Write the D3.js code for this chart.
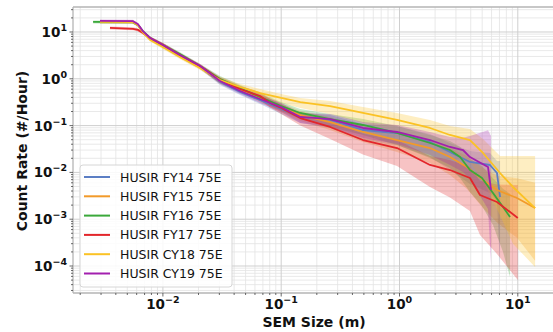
<!DOCTYPE html>
<html>
<head>
<meta charset="utf-8">
<script src="https://cdn.jsdelivr.net/npm/d3@7"></script>
<style>
  body { margin: 0; background: #fff; }
  svg { display: block; font-family: "DejaVu Sans", sans-serif; }
</style>
</head>
<body>
<div id="chart"></div>
<script>
// each row: [size (m), rate, lower bound, upper bound]
const fy14 = [
  [0.00294, 16.4, 15.2, 17.7], [0.00559, 16.2, 15.0, 17.5], [0.00616, 14.1, 13.1, 15.2],
  [0.00679, 10.0, 9.3, 10.8], [0.0078, 7.09, 6.58, 7.64], [0.01, 5.02, 4.55, 5.54], [0.0139, 3.07, 2.78, 3.39],
  [0.0206, 1.79, 1.62, 1.98], [0.0304, 0.854, 0.737, 0.99], [0.0449, 0.522, 0.45, 0.605],
  [0.0662, 0.352, 0.289, 0.428], [0.1, 0.226, 0.177, 0.275], [0.145, 0.153, 0.114, 0.186],
  [0.259, 0.132, 0.089, 0.169], [0.491, 0.0805, 0.0492, 0.108], [0.953, 0.0695, 0.0385, 0.098],
  [1.81, 0.0446, 0.0213, 0.0661], [2.67, 0.0273, 0.01126, 0.0425], [3.94, 0.0167, 0.00566, 0.0287],
  [5.82, 0.0144, 0.00364, 0.026], [6.67, 0.0097, 0.00245, 0.0175], [7.08, 0.00298, 0.000085, 0.0175]
];
const fy15 = [
  [0.00294, 16.4, 15.2, 17.7], [0.00559, 16.2, 15.0, 17.5], [0.00616, 14.1, 13.1, 15.2],
  [0.00679, 10.0, 9.3, 10.8], [0.0078, 7.09, 6.58, 7.64], [0.01, 5.28, 4.78, 5.83], [0.0139, 3.23, 2.93, 3.57],
  [0.0206, 1.79, 1.62, 1.98], [0.0304, 0.897, 0.774, 1.04], [0.0449, 0.605, 0.522, 0.701],
  [0.0662, 0.389, 0.32, 0.473], [0.1, 0.25, 0.195, 0.304], [0.145, 0.168, 0.125, 0.204],
  [0.259, 0.119, 0.0802, 0.152], [0.491, 0.073, 0.0446, 0.098], [0.953, 0.0492, 0.0272, 0.0694],
  [1.81, 0.0332, 0.0159, 0.0492], [2.67, 0.0213, 0.00879, 0.0332], [3.72, 0.013, 0.00441, 0.0223],
  [5.08, 0.00688, 0.00174, 0.0124], [6.67, 0.00421, 0.00085, 0.0085], [9.85, 0.00284, 0.0004, 0.0075],
  [14.0, 0.00173, 0.00013, 0.006]
];
const fy16 = [
  [0.00257, 16.4, 15.2, 17.7], [0.00559, 16.2, 15.0, 17.5], [0.00616, 14.1, 13.1, 15.2],
  [0.00679, 10.3, 9.6, 11.1], [0.0078, 7.44, 6.91, 8.01], [0.01, 5.28, 4.78, 5.83], [0.0139, 3.39, 3.07, 3.74],
  [0.0206, 1.88, 1.7, 2.08], [0.0304, 0.99, 0.854, 1.15], [0.0449, 0.636, 0.549, 0.737],
  [0.0662, 0.408, 0.335, 0.497], [0.1, 0.262, 0.205, 0.319], [0.145, 0.186, 0.138, 0.226],
  [0.259, 0.138, 0.0931, 0.177], [0.491, 0.103, 0.063, 0.138], [0.953, 0.0695, 0.0385, 0.098],
  [1.81, 0.0425, 0.0203, 0.063], [2.67, 0.0301, 0.0124, 0.0469], [3.25, 0.0213, 0.0076, 0.0352],
  [3.94, 0.01125, 0.00381, 0.0193], [4.98, 0.0076, 0.00192, 0.0137], [6.17, 0.00363, 0.00075, 0.0075],
  [7.5, 0.00182, 0.0002, 0.0045], [8.6, 0.00111, 0.000058, 0.0035]
];
const fy17 = [
  [0.00357, 12.2, 11.3, 13.1], [0.00559, 11.7, 10.9, 12.6], [0.00616, 11.1, 10.3, 12.0],
  [0.00679, 9.5, 8.8, 10.2], [0.0078, 7.44, 6.91, 8.01], [0.01, 5.28, 4.78, 5.83], [0.0139, 3.23, 2.93, 3.57],
  [0.0206, 1.88, 1.7, 2.08], [0.0304, 0.943, 0.814, 1.09], [0.0449, 0.605, 0.522, 0.701],
  [0.0662, 0.429, 0.352, 0.522], [0.0804, 0.304, 0.245, 0.37], [0.1, 0.238, 0.177, 0.29],
  [0.145, 0.145, 0.1, 0.176], [0.259, 0.0934, 0.052, 0.125], [0.491, 0.0492, 0.024, 0.068],
  [0.953, 0.0332, 0.0137, 0.049], [1.81, 0.0144, 0.0049, 0.0223], [2.67, 0.01125, 0.0029, 0.0184],
  [3.94, 0.0076, 0.0015, 0.013], [4.79, 0.00329, 0.00046, 0.0066], [6.67, 0.00233, 0.00018, 0.0055],
  [10.0, 0.00106, 0.00005, 0.0054]
];
const cy18 = [
  [0.00294, 16.4, 15.2, 17.7], [0.00559, 16.2, 15.0, 17.5], [0.00616, 14.0, 13.0, 15.1],
  [0.00679, 9.7, 9.0, 10.5], [0.0078, 6.75, 6.27, 7.27], [0.01, 4.78, 4.33, 5.28], [0.0139, 2.92, 2.64, 3.22],
  [0.0206, 1.7, 1.54, 1.88], [0.0304, 0.943, 0.814, 1.09], [0.0449, 0.668, 0.576, 0.774],
  [0.0662, 0.497, 0.408, 0.605], [0.1, 0.389, 0.304, 0.473], [0.145, 0.319, 0.238, 0.388],
  [0.259, 0.262, 0.177, 0.335], [0.491, 0.186, 0.114, 0.25], [0.953, 0.132, 0.073, 0.186],
  [1.81, 0.0889, 0.0425, 0.132], [2.67, 0.063, 0.026, 0.098], [3.94, 0.0492, 0.0167, 0.0845],
  [5.08, 0.026, 0.0066, 0.0517], [7.08, 0.0097, 0.0012, 0.0224], [9.1, 0.00488, 0.0003, 0.0224],
  [14.0, 0.00173, 0.000095, 0.0224]
];
const cy19 = [
  [0.00294, 17.2, 16.0, 18.5], [0.00559, 17.0, 15.8, 18.3], [0.00616, 14.6, 13.6, 15.7],
  [0.00679, 10.3, 9.6, 11.1], [0.0078, 7.44, 6.91, 8.01], [0.01, 5.28, 4.78, 5.83], [0.0139, 3.23, 2.93, 3.57],
  [0.0206, 1.88, 1.7, 2.08], [0.0304, 0.897, 0.774, 1.04], [0.0449, 0.548, 0.473, 0.635],
  [0.0662, 0.37, 0.304, 0.45], [0.1, 0.25, 0.195, 0.304], [0.145, 0.153, 0.114, 0.186],
  [0.259, 0.138, 0.0931, 0.177], [0.491, 0.0889, 0.0543, 0.119], [0.953, 0.073, 0.0404, 0.103],
  [1.81, 0.0492, 0.0235, 0.073], [2.67, 0.0349, 0.0144, 0.0571], [3.44, 0.0301, 0.0102, 0.055],
  [3.94, 0.0213, 0.0072, 0.06], [5.6, 0.013, 0.00165, 0.08], [5.94, 0.00421, 0.00011, 0.06]
];

const seriesNames = ["HUSIR FY14 75E", "HUSIR FY15 75E", "HUSIR FY16 75E", "HUSIR FY17 75E", "HUSIR CY18 75E", "HUSIR CY19 75E"];
const seriesColors = ["#5b7ec4", "#f29a2a", "#3aa83a", "#e3262b", "#fbc224", "#a21fae"];
const seriesData = [fy14, fy15, fy16, fy17, cy18, cy19];

const xMajor = [1e-2, 1e-1, 1e0, 1e1];
const xMajorExp = ["\u22122", "\u22121", "0", "1"];
const yMajor = [1e1, 1e0, 1e-1, 1e-2, 1e-3, 1e-4];
const yMajorExp = ["1", "0", "\u22121", "\u22122", "\u22123", "\u22124"];

const W = 553, H = 332;
const margin = { top: 7, right: 0, bottom: 39, left: 73 };
const iw = W - margin.left - margin.right;
const ih = H - margin.top - margin.bottom;

const x = d3.scaleLog().domain([0.001738, 19.84]).range([0, iw]);
const y = d3.scaleLog().domain([2.65e-5, 34.2]).range([ih, 0]);

const svg = d3.select("#chart").append("svg").attr("width", W).attr("height", H);
const g = svg.append("g").attr("transform", `translate(${margin.left},${margin.top})`);

svg.append("defs").append("clipPath").attr("id", "clip")
  .append("rect").attr("width", iw).attr("height", ih);

const isMajor = v => Math.abs(Math.log10(v) - Math.round(Math.log10(v))) < 1e-6;
const xAll = x.ticks();
const yAll = y.ticks();

// grid: minor first, major on top
const grid = g.append("g");
grid.selectAll(".xmin").data(xAll.filter(v => !isMajor(v))).enter().append("line")
  .attr("x1", d => x(d)).attr("x2", d => x(d)).attr("y1", 0).attr("y2", ih)
  .attr("stroke", "#e3e3e3").attr("stroke-width", 0.8);
grid.selectAll(".ymin").data(yAll.filter(v => !isMajor(v))).enter().append("line")
  .attr("y1", d => y(d)).attr("y2", d => y(d)).attr("x1", 0).attr("x2", iw)
  .attr("stroke", "#e3e3e3").attr("stroke-width", 0.8);
grid.selectAll(".xmaj").data(xMajor).enter().append("line")
  .attr("x1", d => x(d)).attr("x2", d => x(d)).attr("y1", 0).attr("y2", ih)
  .attr("stroke", "#cfcfcf").attr("stroke-width", 1);
grid.selectAll(".ymaj").data(yMajor).enter().append("line")
  .attr("y1", d => y(d)).attr("y2", d => y(d)).attr("x1", 0).attr("x2", iw)
  .attr("stroke", "#cfcfcf").attr("stroke-width", 1);

const plot = g.append("g").attr("clip-path", "url(#clip)");

const area = d3.area()
  .x(d => x(d[0]))
  .y0(d => y(d[2]))
  .y1(d => y(d[3]));
const line = d3.line()
  .x(d => x(d[0]))
  .y(d => y(d[1]));

seriesData.forEach((data, i) => {
  plot.append("path").datum(data)
    .attr("d", area)
    .attr("fill", seriesColors[i])
    .attr("fill-opacity", 0.28);
});
seriesData.forEach((data, i) => {
  plot.append("path").datum(data)
    .attr("d", line)
    .attr("fill", "none")
    .attr("stroke", seriesColors[i])
    .attr("stroke-width", 1.8)
    .attr("stroke-linejoin", "round");
});

// spines
g.append("line").attr("x1", 0).attr("x2", 0).attr("y1", 0).attr("y2", ih)
  .attr("stroke", "#b5b5b5").attr("stroke-width", 1.3);
g.append("line").attr("x1", 0).attr("x2", iw).attr("y1", 0).attr("y2", 0)
  .attr("stroke", "#b5b5b5").attr("stroke-width", 1.3);
g.append("line").attr("x1", 0).attr("x2", iw).attr("y1", ih).attr("y2", ih)
  .attr("stroke", "#b5b5b5").attr("stroke-width", 1.3);

// tick marks
const ticks = g.append("g").attr("stroke", "#444").attr("stroke-width", 0.8);
ticks.selectAll(".xt").data(xAll).enter().append("line")
  .attr("x1", d => x(d)).attr("x2", d => x(d))
  .attr("y1", ih).attr("y2", d => ih + (isMajor(d) ? 3.5 : 2));
ticks.selectAll(".yt").data(yAll).enter().append("line")
  .attr("y1", d => y(d)).attr("y2", d => y(d))
  .attr("x1", 0).attr("x2", d => isMajor(d) ? -3.5 : -2);

// tick labels
xMajor.forEach((v, i) => {
  const t = g.append("text")
    .attr("x", x(v)).attr("y", ih + 16)
    .attr("text-anchor", "middle")
    .attr("font-size", 13.5).attr("font-weight", "bold").attr("fill", "#111");
  t.append("tspan").text("10");
  t.append("tspan").attr("dy", -6).attr("font-size", 9.5).text(xMajorExp[i]);
});
yMajor.forEach((v, i) => {
  const t = g.append("text")
    .attr("x", -6).attr("y", y(v) + 5)
    .attr("text-anchor", "end")
    .attr("font-size", 13.5).attr("font-weight", "bold").attr("fill", "#111");
  t.append("tspan").text("10");
  t.append("tspan").attr("dy", -6).attr("font-size", 9.5).text(yMajorExp[i]);
});

// axis titles
svg.append("text")
  .attr("x", 314).attr("y", 327)
  .attr("text-anchor", "middle")
  .attr("font-size", 14).attr("font-weight", "bold").attr("fill", "#111")
  .text("SEM Size (m)");
svg.append("text")
  .attr("transform", "translate(27,151) rotate(-90)")
  .attr("text-anchor", "middle")
  .attr("font-size", 14).attr("font-weight", "bold").attr("fill", "#111")
  .text("Count Rate (#/Hour)");

// legend
const legend = svg.append("g").attr("transform", "translate(80,165)");
legend.append("rect")
  .attr("width", 152).attr("height", 122).attr("rx", 3)
  .attr("fill", "#fff").attr("fill-opacity", 0.85)
  .attr("stroke", "#d6d6d6").attr("stroke-width", 1);
seriesNames.forEach((name, i) => {
  const row = legend.append("g").attr("transform", `translate(0,${12 + i * 19.3})`);
  row.append("line").attr("x1", 4).attr("x2", 30).attr("y1", 0).attr("y2", 0)
    .attr("stroke", seriesColors[i]).attr("stroke-width", 2);
  row.append("text").attr("x", 40).attr("y", 0).attr("dy", "0.36em")
    .attr("font-size", 12.5).attr("fill", "#111").text(name);
});
</script>
</body>
</html>
